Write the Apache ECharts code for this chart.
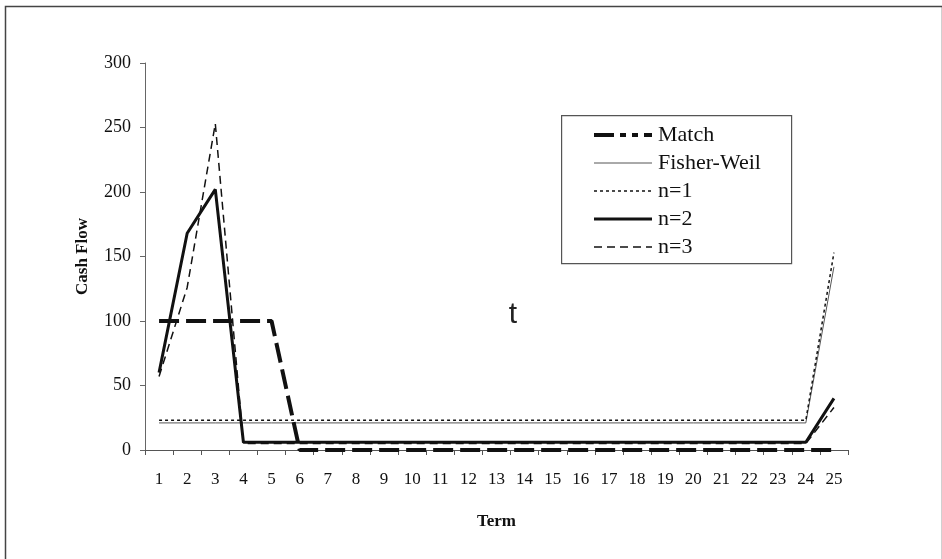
<!DOCTYPE html>
<html>
<head>
<meta charset="utf-8">
<script src="https://cdn.jsdelivr.net/npm/echarts@6/dist/echarts.min.js"></script>
<style>
html,body{margin:0;padding:0;background:#fff;}
#c{width:942px;height:559px;}
</style>
</head>
<body>
<div id="c"></div>
<script>
const categories = ['1','2','3','4','5','6','7','8','9','10','11','12','13','14','15','16','17','18','19','20','21','22','23','24','25'];
const matchValues = [100,100,100,100,100,0,0,0,0,0,0,0,0,0,0,0,0,0,0,0,0,0,0,0,0];
const fisherWeilValues = [21,21,21,21,21,21,21,21,21,21,21,21,21,21,21,21,21,21,21,21,21,21,21,21,142];
const n1Values = [23,23,23,23,23,23,23,23,23,23,23,23,23,23,23,23,23,23,23,23,23,23,23,23,153];
const n2Values = [60,168,202,6,6,6,6,6,6,6,6,6,6,6,6,6,6,6,6,6,6,6,6,6,40];
const n3Values = [57,126,253,5,5,5,5,5,5,5,5,5,5,5,5,5,5,5,5,5,5,5,5,5,33];
const yTicks = [0,50,100,150,200,250,300];

const serif = 'Liberation Serif';
const chart = echarts.init(document.getElementById('c'), null, {renderer:'canvas'});

function lineSeries(name, data, width, type, color) {
  return {
    name: name, type: 'line', data: data, symbol: 'none', showSymbol: false,
    lineStyle: {width: width, type: type, color: color, cap: 'butt'},
    itemStyle: {color: color},
    emphasis: {disabled: true}, silent: true, animation: false
  };
}

chart.setOption({
  backgroundColor: '#fff',
  animation: false,
  grid: {left: 145, right: 94, top: 63, bottom: 109, containLabel: false},
  legend: {
    left: 592, top: 124, orient: 'vertical',
    itemWidth: 58, itemHeight: 14, itemGap: 6, padding: 0,
    itemStyle: {color: 'rgba(0,0,0,0)', borderWidth: 0, opacity: 0},
    textStyle: {fontFamily: serif, fontSize: 22, color: '#111', lineHeight: 21, padding: [0,0,0,1]},
    selectedMode: false,
    data: [
      {name: 'Match', lineStyle: {width: 4, type: [20,6,6,6,6,6], color: '#111'}},
      {name: 'Fisher-Weil', lineStyle: {width: 1, type: 'solid', color: '#555'}},
      {name: 'n=1', lineStyle: {width: 1.5, type: [3,3], color: '#111'}},
      {name: 'n=2', lineStyle: {width: 3, type: 'solid', color: '#111'}},
      {name: 'n=3', lineStyle: {width: 1.5, type: [8,5], color: '#111'}}
    ]
  },
  xAxis: {
    type: 'category', data: categories, boundaryGap: true,
    name: 'Term', nameLocation: 'middle', nameGap: 63,
    nameTextStyle: {fontFamily: serif, fontSize: 17, fontWeight: 'bold', color: '#111'},
    axisLine: {lineStyle: {color: '#555', width: 1}},
    axisTick: {show: true, length: 5, interval: 0, lineStyle: {color: '#555'}},
    axisLabel: {interval: 0, margin: 21, fontFamily: serif, fontSize: 17, color: '#111'},
    splitLine: {show: false}
  },
  yAxis: {
    type: 'value', min: yTicks[0], max: yTicks[yTicks.length-1], interval: 50,
    name: 'Cash Flow', nameLocation: 'middle', nameGap: 54, nameRotate: 90,
    nameTextStyle: {fontFamily: serif, fontSize: 17, fontWeight: 'bold', color: '#111'},
    axisLine: {show: true, lineStyle: {color: '#666', width: 1}},
    axisTick: {show: true, length: 5, lineStyle: {color: '#666'}},
    axisLabel: {margin: 14, fontFamily: serif, fontSize: 18, color: '#111'},
    splitLine: {show: false}
  },
  series: [
    lineSeries('Fisher-Weil', fisherWeilValues, 1, 'solid', '#555'),
    lineSeries('n=1', n1Values, 1.5, [3,3], '#111'),
    lineSeries('n=3', n3Values, 1.5, [8,5], '#111'),
    lineSeries('n=2', n2Values, 3, 'solid', '#111'),
    lineSeries('Match', matchValues, 4, [20,7], '#111')
  ],
  graphic: [
    {type: 'rect', left: 3, top: 4, shape: {width: 937, height: 560},
     style: {fill: 'none', stroke: '#444', lineWidth: 1.5}, silent: true, z: 0},
    {type: 'rect', left: 561, top: 115, shape: {width: 230, height: 148},
     style: {fill: '#fff', stroke: '#555', lineWidth: 1.2}, silent: true, z: 0},
    {type: 'text', x: 513, y: 315, style: {text: 't', fontFamily: 'Liberation Sans', fontSize: 30, fill: '#222', align: 'center', verticalAlign: 'middle'}, silent: true}
  ]
});
</script>
</body>
</html>
